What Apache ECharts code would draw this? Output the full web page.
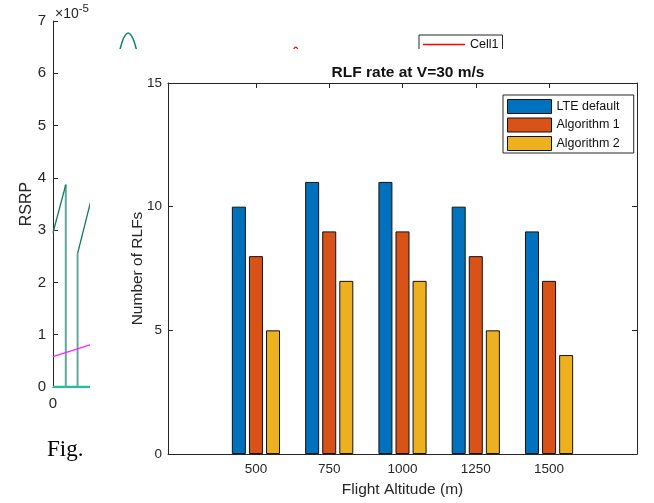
<!DOCTYPE html>
<html>
<head>
<meta charset="utf-8">
<script src="https://cdn.jsdelivr.net/npm/echarts@6/dist/echarts.min.js"></script>
<style>
html,body{margin:0;padding:0;background:#fff;}
#chart{width:654px;height:503px;}
</style>
</head>
<body>
<div id="chart"></div>
<script>
// ---- Main chart data ----
const altitudes = [500, 750, 1000, 1250, 1500];
const seriesNames = ['LTE default', 'Algorithm 1', 'Algorithm 2'];
const lteDefault = [10, 11, 11, 10, 9];
const algorithm1 = [8, 9, 9, 8, 7];
const algorithm2 = [5, 7, 7, 5, 4];
const yTicks = [0, 5, 10, 15];
const titleText = 'RLF rate at V=30 m/s';
const xName = 'Flight Altitude (m)';
const yName = 'Number of RLFs';

// ---- Background (underlying figure) data, RSRP in units of 1e-5 ----
const bgDarkGreenA = [[0, 2.95], [1.3, 3.87]];
const bgDarkGreenB = [[2.5, 2.55], [4.0, 3.67]];
const bgTealV1 = [[1.3, 0], [1.3, 3.87]];
const bgTealV2 = [[2.5, 0], [2.5, 2.55]];
const bgTealBase = [[0, 0], [4.0, 0]];
const bgMagenta = [[0, 0.58], [4.0, 0.82]];
const bgGreenArc = [[6.69, 6.35], [7.0, 6.58], [7.3, 6.71], [7.65, 6.77], [8.0, 6.71], [8.3, 6.58], [8.61, 6.35]];
const bgCell1 = [[24.3, 6.36], [24.5, 6.46], [24.7, 6.50], [24.9, 6.46], [25.1, 6.36]];

const FONT = '"Liberation Sans", Arial, Helvetica, sans-serif';
const INK = '#262626';
const colors = ['#0072BD', '#D95319', '#EDB120'];
const valueSets = [lteDefault, algorithm1, algorithm2];

const chart = echarts.init(document.getElementById('chart'), null, {renderer: 'canvas'});

function pairs(vals) { return altitudes.map((a, i) => [a, vals[i]]); }
const plain = v => String(v);

const bgLine = (data, color, width, name, smooth) => ({
  type: 'line', name: name || undefined, xAxisIndex: 0, yAxisIndex: 0, data: data,
  symbol: 'none', smooth: !!smooth, z: 2, silent: true, animation: false,
  lineStyle: {color: color, width: width}, itemStyle: {color: color}
});

const barSeries = seriesNames.map((n, i) => ({
  type: 'bar', name: n, xAxisIndex: 1, yAxisIndex: 1,
  data: pairs(valueSets[i]),
  barWidth: 14, barGap: '22%', z: 61, animation: false,
  itemStyle: {color: colors[i], borderColor: '#111', borderWidth: 1}
}));

const option = {
  animation: false,
  backgroundColor: '#fff',
  textStyle: {fontFamily: FONT},
  title: {
    text: titleText, left: 403, top: 60, textAlign: 'center', z: 62,
    textStyle: {fontFamily: FONT, fontSize: 15.5, fontWeight: 'bold', color: '#111'}
  },
  legend: [
    {
      data: [{name: 'Cell1', icon: 'path://M0 0H100V3H0Z'}], left: 419, top: 35, orient: 'vertical', z: 3,
      backgroundColor: '#fff', borderColor: INK, borderWidth: 1,
      padding: [3, 4, 8, 4], itemWidth: 42, itemHeight: 10, itemGap: 4,
      textStyle: {fontFamily: FONT, fontSize: 12.5, color: '#111'}
    },
    {
      data: seriesNames.map(n => ({name: n, icon: 'rect'})), left: 503, top: 95, orient: 'vertical', z: 62,
      backgroundColor: '#fff', borderColor: INK, borderWidth: 1,
      padding: [4, 14, 2, 4], itemWidth: 44, itemHeight: 14, itemGap: 3.5,
      itemStyle: {borderColor: '#111', borderWidth: 1},
      textStyle: {fontFamily: FONT, fontSize: 12.5, color: '#111'}
    }
  ],
  grid: [
    {left: 53, top: 21, width: 601, height: 366, show: false},
    {left: 168, top: 83, right: 17, bottom: 49, show: false}
  ],
  xAxis: [
    {
      type: 'value', gridIndex: 0, min: 0, max: 60, interval: 10, z: 1,
      axisLine: {show: true, lineStyle: {color: INK, width: 1}},
      axisTick: {show: false}, splitLine: {show: false},
      axisLabel: {fontFamily: FONT, fontSize: 15, color: INK, margin: 9, formatter: plain}
    },
    {
      type: 'value', gridIndex: 1, min: 200, max: 1800, z: 60, position: 'bottom',
      name: xName, nameLocation: 'middle', nameGap: 28, nameMoveOverlap: false,
      nameTextStyle: {fontFamily: FONT, fontSize: 15.5, color: INK},
      axisLine: {show: true, onZero: false, lineStyle: {color: INK, width: 1}},
      axisTick: {show: true, inside: true, length: 5, customValues: altitudes, lineStyle: {color: INK}},
      axisLabel: {show: true, customValues: altitudes, fontFamily: FONT, fontSize: 13.5, color: INK, margin: 8, formatter: plain},
      splitLine: {show: false}
    },
    {
      type: 'value', gridIndex: 1, min: 200, max: 1800, z: 60, position: 'top',
      axisLine: {show: true, onZero: false, lineStyle: {color: INK, width: 1}},
      axisTick: {show: true, inside: true, length: 5, customValues: altitudes, lineStyle: {color: INK}},
      axisLabel: {show: false}, splitLine: {show: false}
    }
  ],
  yAxis: [
    {
      type: 'value', gridIndex: 0, min: 0, max: 7, interval: 1, z: 1,
      name: 'RSRP', nameLocation: 'middle', nameGap: 18, nameMoveOverlap: false,
      nameTextStyle: {fontFamily: FONT, fontSize: 16, color: INK},
      axisLine: {show: true, lineStyle: {color: INK, width: 1}},
      axisTick: {show: true, inside: true, length: 5, lineStyle: {color: INK}},
      axisLabel: {fontFamily: FONT, fontSize: 15, color: INK, margin: 7},
      splitLine: {show: false}
    },
    {
      type: 'value', gridIndex: 1, min: 0, max: 15, interval: 5, z: 60, position: 'left',
      name: yName, nameLocation: 'middle', nameGap: 22, nameMoveOverlap: false,
      nameTextStyle: {fontFamily: FONT, fontSize: 15.5, color: INK},
      axisLine: {show: true, onZero: false, lineStyle: {color: INK, width: 1}},
      axisTick: {show: true, inside: true, length: 5, lineStyle: {color: INK}},
      axisLabel: {fontFamily: FONT, fontSize: 13.5, color: INK, margin: 6},
      splitLine: {show: false}
    },
    {
      type: 'value', gridIndex: 1, min: 0, max: 15, interval: 5, z: 60, position: 'right',
      axisLine: {show: true, onZero: false, lineStyle: {color: INK, width: 1}},
      axisTick: {show: true, inside: true, length: 5, lineStyle: {color: INK}},
      axisLabel: {show: false}, splitLine: {show: false}
    }
  ],
  graphic: [
    {
      type: 'rect', left: 90, top: 49, z: 50, silent: true,
      shape: {width: 564, height: 454}, style: {fill: '#fff'}
    },
    {
      type: 'text', left: 55, top: 3, z: 5,
      style: {
        text: '×10{s|-5}', fill: INK, font: '14px ' + FONT,
        rich: {s: {fontSize: 11.5, fontFamily: FONT, fill: INK, verticalAlign: 'top', padding: [0, 0, 10, 0]}}
      }
    },
    {
      type: 'text', left: 47, top: 438, z: 70,
      style: {text: 'Fig.', fill: '#000', font: '23px "Liberation Serif", "DejaVu Serif", serif'}
    }
  ],
  series: [
    bgLine(bgTealBase, '#1fc09a', 2.5),
    bgLine(bgTealV1, '#5fa89b', 2),
    bgLine(bgTealV2, '#5fa89b', 2),
    bgLine(bgDarkGreenA, '#11785d', 1.3),
    bgLine(bgDarkGreenB, '#11785d', 1.3),
    bgLine(bgMagenta, '#ff22ff', 1.3),
    bgLine(bgGreenArc, '#11856a', 1.5, null, true),
    bgLine(bgCell1, '#ff0000', 1.3, 'Cell1', true)
  ].concat(barSeries)
};

chart.setOption(option);
</script>
</body>
</html>
